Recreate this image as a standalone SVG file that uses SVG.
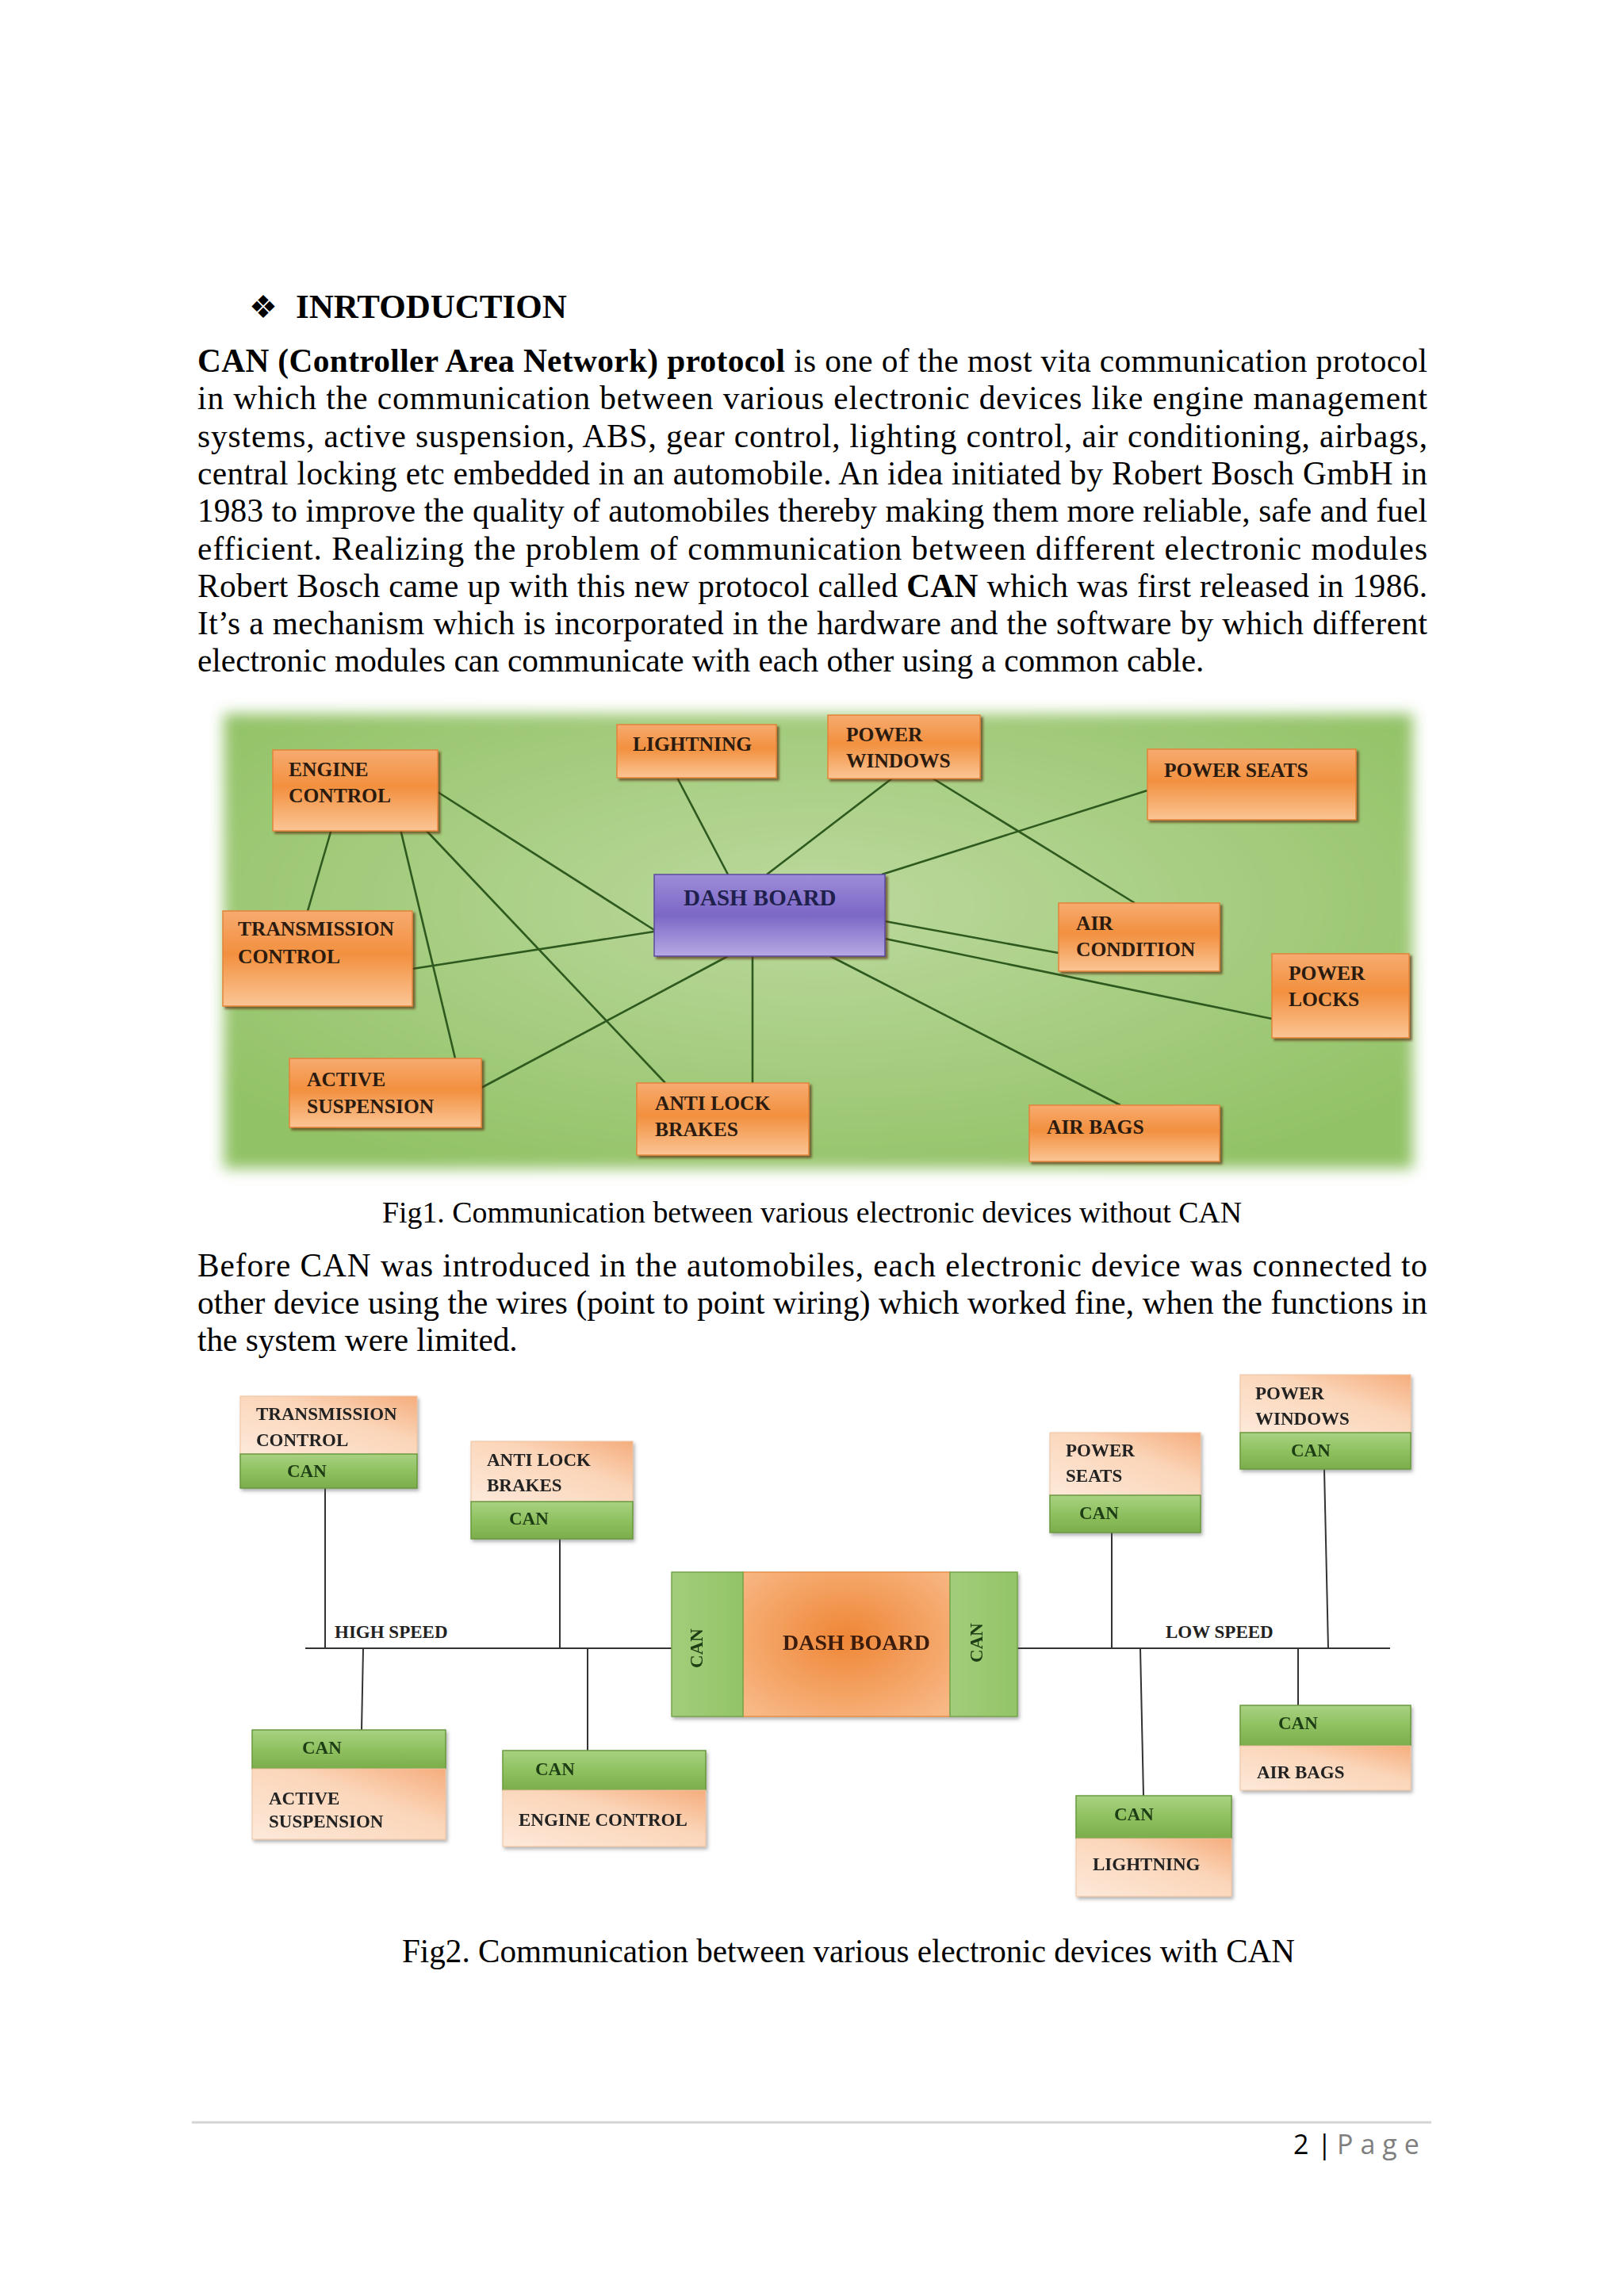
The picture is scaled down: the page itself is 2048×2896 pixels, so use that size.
<svg xmlns="http://www.w3.org/2000/svg" width="2048" height="2896" viewBox="0 0 2048 2896">
<style>
.body{font-family:"Liberation Serif","Times New Roman",serif;font-size:41.3px;fill:#000}
.b{font-weight:bold}
.l1{font-family:"Liberation Serif","Times New Roman",serif;font-weight:bold;font-size:25.5px;fill:#2b1a0e}
.l2{font-family:"Liberation Serif","Times New Roman",serif;font-weight:bold;font-size:23px;fill:#222}
.can{fill:#1f3d12}
.o1{fill:url(#gOr);stroke:#e4843a;stroke-width:1.5;filter:url(#sh)}
.pu{fill:url(#gPu);stroke:#5c4b9e;stroke-width:1.5;filter:url(#sh)}
.w1{stroke:#2e5a1f;stroke-width:2.6;fill:none}
.w2{stroke:#333;stroke-width:2;fill:none}
.pe{fill:url(#gPe);stroke:#efc3a0;stroke-width:1}
.gr{fill:url(#gGr);stroke:#6a9a3f;stroke-width:1.5}
.nd2{filter:url(#sh2)}
</style>
<defs>
<linearGradient id="gOr" x1="0" y1="0" x2="0" y2="1">
<stop offset="0" stop-color="#f7ab70"/><stop offset="0.45" stop-color="#f2903f"/><stop offset="1" stop-color="#fbc595"/>
</linearGradient>
<linearGradient id="gPu" x1="0" y1="0" x2="0" y2="1">
<stop offset="0" stop-color="#9d8cd8"/><stop offset="0.5" stop-color="#7c67c6"/><stop offset="1" stop-color="#b6a9e4"/>
</linearGradient>
<radialGradient id="gBg" cx="0.5" cy="0.42" r="0.65">
<stop offset="0" stop-color="#bcd99e"/><stop offset="1" stop-color="#92c266"/>
</radialGradient>
<linearGradient id="gPe" x1="0" y1="1" x2="1" y2="0">
<stop offset="0" stop-color="#fde9da"/><stop offset="0.6" stop-color="#fbd5b8"/><stop offset="1" stop-color="#f5ad7d"/>
</linearGradient>
<linearGradient id="gGr" x1="0" y1="0" x2="0" y2="1">
<stop offset="0" stop-color="#a9d182"/><stop offset="0.5" stop-color="#8fc160"/><stop offset="1" stop-color="#7cad4c"/>
</linearGradient>
<linearGradient id="gGrV" x1="0" y1="0" x2="1" y2="0">
<stop offset="0" stop-color="#a3cd7b"/><stop offset="1" stop-color="#93c468"/>
</linearGradient>
<radialGradient id="gDash" cx="0.5" cy="0.45" r="0.7">
<stop offset="0" stop-color="#ef8636"/><stop offset="1" stop-color="#f8b987"/>
</radialGradient>
<filter id="sh" x="-10%" y="-10%" width="125%" height="130%">
<feDropShadow dx="3" dy="3" stdDeviation="1.5" flood-color="#5a3410" flood-opacity="0.7"/>
</filter>
<filter id="sh2" x="-10%" y="-10%" width="125%" height="130%">
<feDropShadow dx="2" dy="3" stdDeviation="2" flood-color="#555" flood-opacity="0.45"/>
</filter>
<filter id="blur" x="-5%" y="-5%" width="110%" height="110%">
<feGaussianBlur stdDeviation="9"/>
</filter>
</defs>
<rect width="2048" height="2896" fill="#ffffff"/>

<g id="heading">
<text x="314" y="401" font-family="DejaVu Sans, sans-serif" font-size="40" fill="#000">❖</text>
<text x="373" y="401" font-family="Liberation Serif, serif" font-weight="bold" font-size="43" fill="#000">INRTODUCTION</text>
</g>

<g id="para1" class="body">
<text x="249" y="469" textLength="1551" lengthAdjust="spacing"><tspan class="b">CAN (Controller Area Network) protocol</tspan> is one of the most vita communication protocol</text>
<text x="249" y="516.3" textLength="1551" lengthAdjust="spacing">in which the communication between various electronic devices like engine management</text>
<text x="249" y="563.6" textLength="1551" lengthAdjust="spacing">systems, active suspension, ABS, gear control, lighting control, air conditioning, airbags,</text>
<text x="249" y="610.9" textLength="1551" lengthAdjust="spacing">central locking etc embedded in an automobile. An idea initiated by Robert Bosch GmbH in</text>
<text x="249" y="658.2" textLength="1551" lengthAdjust="spacing">1983 to improve the quality of automobiles thereby making them more reliable, safe and fuel</text>
<text x="249" y="705.5" textLength="1551" lengthAdjust="spacing">efficient. Realizing the problem of communication between different electronic modules</text>
<text x="249" y="752.8" textLength="1551" lengthAdjust="spacing">Robert Bosch came up with this new protocol called <tspan class="b">CAN</tspan> which was first released in 1986.</text>
<text x="249" y="800.1" textLength="1551" lengthAdjust="spacing">It’s a mechanism which is incorporated in the hardware and the software by which different</text>
<text x="249" y="847.4">electronic modules can communicate with each other using a common cable.</text>
</g>

<!-- Figure 1 -->
<rect id="fig1-bg" x="282" y="900" width="1500" height="574" fill="url(#gBg)" filter="url(#blur)"/>
<g id="fig1-connectors" class="w1">
<line x1="552" y1="999" x2="825" y2="1173"/>
<line x1="418" y1="1046" x2="388" y2="1149"/>
<line x1="505" y1="1046" x2="574" y2="1335"/>
<line x1="538" y1="1048" x2="839" y2="1366"/>
<line x1="520" y1="1222" x2="825" y2="1175"/>
<line x1="607" y1="1372" x2="918" y2="1206"/>
<line x1="949" y1="1366" x2="949" y2="1206"/>
<line x1="854" y1="981" x2="918" y2="1103"/>
<line x1="967" y1="1103" x2="1126" y2="981"/>
<line x1="1175" y1="981" x2="1431" y2="1139"/>
<line x1="1112" y1="1103" x2="1447" y2="997"/>
<line x1="1116" y1="1162" x2="1335" y2="1202"/>
<line x1="1116" y1="1184" x2="1604" y2="1285"/>
<line x1="1047" y1="1206" x2="1413" y2="1394"/>
</g>
<g id="f1-engine"><rect class="o1" x="344" y="946" width="208" height="102"/><text class="l1" x="364" y="979">ENGINE</text><text class="l1" x="364" y="1012">CONTROL</text></g>
<g id="f1-lightning"><rect class="o1" x="778" y="914" width="201" height="67"/><text class="l1" x="798" y="947">LIGHTNING</text></g>
<g id="f1-powerwindows"><rect class="o1" x="1044" y="902" width="192" height="80"/><text class="l1" x="1067" y="935">POWER</text><text class="l1" x="1067" y="968">WINDOWS</text></g>
<g id="f1-powerseats"><rect class="o1" x="1447" y="945" width="263" height="89"/><text class="l1" x="1468" y="980">POWER SEATS</text></g>
<g id="f1-transmission"><rect class="o1" x="281" y="1149" width="239" height="120"/><text class="l1" x="300" y="1180">TRANSMISSION</text><text class="l1" x="300" y="1215">CONTROL</text></g>
<g id="f1-dashboard"><rect class="pu" x="825" y="1103" width="291" height="103"/><text class="l1" x="862" y="1142" style="font-size:29px;fill:#20204c">DASH BOARD</text></g>
<g id="f1-aircondition"><rect class="o1" x="1335" y="1139" width="203" height="86"/><text class="l1" x="1357" y="1173">AIR</text><text class="l1" x="1357" y="1206">CONDITION</text></g>
<g id="f1-powerlocks"><rect class="o1" x="1604" y="1203" width="173" height="106"/><text class="l1" x="1625" y="1236">POWER</text><text class="l1" x="1625" y="1269">LOCKS</text></g>
<g id="f1-activesuspension"><rect class="o1" x="365" y="1335" width="242" height="87"/><text class="l1" x="387" y="1370">ACTIVE</text><text class="l1" x="387" y="1404">SUSPENSION</text></g>
<g id="f1-antilock"><rect class="o1" x="803" y="1366" width="217" height="91"/><text class="l1" x="826" y="1400">ANTI LOCK</text><text class="l1" x="826" y="1433">BRAKES</text></g>
<g id="f1-airbags"><rect class="o1" x="1298" y="1394" width="240" height="71"/><text class="l1" x="1320" y="1430">AIR BAGS</text></g>

<text id="cap1" x="482" y="1542" font-family="Liberation Serif, serif" font-size="37.8" fill="#000" textLength="1084" lengthAdjust="spacingAndGlyphs">Fig1. Communication between various electronic devices without CAN</text>

<g id="para2" class="body">
<text x="249" y="1610" textLength="1551" lengthAdjust="spacing">Before CAN was introduced in the automobiles, each electronic device was connected to</text>
<text x="249" y="1657" textLength="1551" lengthAdjust="spacing">other device using the wires (point to point wiring) which worked fine, when the functions in</text>
<text x="249" y="1704">the system were limited.</text>
</g>

<!-- Figure 2 -->
<g id="fig2-connectors" class="w2">
<line x1="385" y1="2079" x2="847" y2="2079"/>
<line x1="1283" y1="2079" x2="1753" y2="2079"/>
<line x1="410" y1="1877" x2="410" y2="2079"/>
<line x1="706" y1="1941" x2="706" y2="2079"/>
<line x1="458" y1="2079" x2="456" y2="2182"/>
<line x1="741" y1="2079" x2="741" y2="2209"/>
<line x1="1402" y1="1933" x2="1402" y2="2079"/>
<line x1="1670" y1="1853" x2="1675" y2="2079"/>
<line x1="1438" y1="2079" x2="1442" y2="2265"/>
<line x1="1637" y1="2079" x2="1637" y2="2151"/>
</g>
<text id="highspeed" class="l2" x="422" y="2066">HIGH SPEED</text>
<text id="lowspeed" class="l2" x="1470" y="2066">LOW SPEED</text>

<g id="f2-transmission" class="nd2"><rect class="pe" x="303" y="1761" width="223" height="73"/><rect class="gr" x="303" y="1834" width="223" height="43"/><text class="l2" x="323" y="1791">TRANSMISSION</text><text class="l2" x="323" y="1824">CONTROL</text><text class="l2 can" x="362" y="1863">CAN</text></g>
<g id="f2-antilock" class="nd2"><rect class="pe" x="594" y="1818" width="204" height="76"/><rect class="gr" x="594" y="1894" width="204" height="47"/><text class="l2" x="614" y="1849">ANTI LOCK</text><text class="l2" x="614" y="1881">BRAKES</text><text class="l2 can" x="642" y="1923">CAN</text></g>
<g id="f2-powerseats" class="nd2"><rect class="pe" x="1324" y="1807" width="190" height="79"/><rect class="gr" x="1324" y="1886" width="190" height="47"/><text class="l2" x="1344" y="1837">POWER</text><text class="l2" x="1344" y="1869">SEATS</text><text class="l2 can" x="1361" y="1916">CAN</text></g>
<g id="f2-powerwindows" class="nd2"><rect class="pe" x="1564" y="1734" width="215" height="73"/><rect class="gr" x="1564" y="1807" width="215" height="46"/><text class="l2" x="1583" y="1765">POWER</text><text class="l2" x="1583" y="1797">WINDOWS</text><text class="l2 can" x="1628" y="1837">CAN</text></g>
<g id="f2-dashboard" class="nd2">
<rect x="937" y="1983" width="261" height="182" fill="url(#gDash)" stroke="#e8904a" stroke-width="1.5"/>
<rect x="847" y="1983" width="90" height="182" fill="url(#gGrV)" stroke="#76a64a" stroke-width="1.5"/>
<rect x="1198" y="1983" width="85" height="182" fill="url(#gGrV)" stroke="#76a64a" stroke-width="1.5"/>
<text class="l2" x="1080" y="2081" text-anchor="middle" style="font-size:28px;fill:#3a1a08">DASH BOARD</text>
<text class="l2 can" transform="translate(886 2079) rotate(-90)" text-anchor="middle">CAN</text>
<text class="l2 can" transform="translate(1239 2072) rotate(-90)" text-anchor="middle">CAN</text>
</g>
<g id="f2-activesuspension" class="nd2"><rect class="gr" x="318" y="2182" width="244" height="49"/><rect class="pe" x="318" y="2231" width="244" height="89"/><text class="l2 can" x="381" y="2212">CAN</text><text class="l2" x="339" y="2276">ACTIVE</text><text class="l2" x="339" y="2305">SUSPENSION</text></g>
<g id="f2-engine" class="nd2"><rect class="gr" x="634" y="2208" width="256" height="50"/><rect class="pe" x="634" y="2258" width="256" height="71"/><text class="l2 can" x="675" y="2239">CAN</text><text class="l2" x="654" y="2303">ENGINE CONTROL</text></g>
<g id="f2-airbags" class="nd2"><rect class="gr" x="1564" y="2151" width="215" height="51"/><rect class="pe" x="1564" y="2202" width="215" height="56"/><text class="l2 can" x="1612" y="2181">CAN</text><text class="l2" x="1585" y="2243">AIR BAGS</text></g>
<g id="f2-lightning" class="nd2"><rect class="gr" x="1357" y="2265" width="196" height="54"/><rect class="pe" x="1357" y="2319" width="196" height="73"/><text class="l2 can" x="1405" y="2296">CAN</text><text class="l2" x="1378" y="2359">LIGHTNING</text></g>

<text id="cap2" x="507" y="2475" font-family="Liberation Serif, serif" font-size="41.3" fill="#000" textLength="1126" lengthAdjust="spacingAndGlyphs">Fig2. Communication between various electronic devices with CAN</text>

<g id="footer">
<line x1="242" y1="2677" x2="1805" y2="2677" stroke="#d4d4d4" stroke-width="3"/>
<text x="1631" y="2717" font-family="Open Sans, Liberation Sans, sans-serif" font-size="34" fill="#000">2</text>
<text x="1661" y="2717" font-family="Open Sans, Liberation Sans, sans-serif" font-size="34" fill="#000">|</text>
<text x="1686" y="2717" font-family="Open Sans, Liberation Sans, sans-serif" font-size="34" fill="#7f7f7f" letter-spacing="9">Page</text>
</g>
</svg>
